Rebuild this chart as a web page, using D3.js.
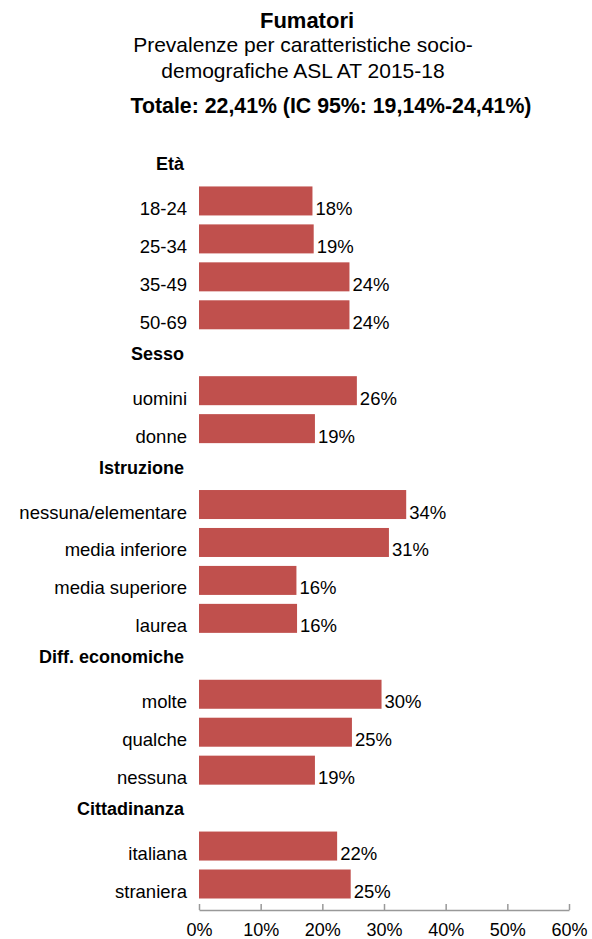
<!DOCTYPE html>
<html>
<head>
<meta charset="utf-8">
<script src="https://cdn.jsdelivr.net/npm/d3@7"></script>
<style>
  body { margin: 0; background: #fff; }
  text { font-family: "Liberation Sans", Arial, sans-serif; fill: #000; }
</style>
</head>
<body>
<svg id="chart"></svg>
<script>
// Groups, categories and values (%)
const groups = ["Età", "Sesso", "Istruzione", "Diff. economiche", "Cittadinanza"];
const categories = [
  ["18-24", "25-34", "35-49", "50-69"],
  ["uomini", "donne"],
  ["nessuna/elementare", "media inferiore", "media superiore", "laurea"],
  ["molte", "qualche", "nessuna"],
  ["italiana", "straniera"]
];
const values = [
  [18.4, 18.6, 24.4, 24.4],
  [25.6, 18.8],
  [33.6, 30.8, 15.8, 15.9],
  [29.6, 24.8, 18.8],
  [22.4, 24.6]
];
const valueLabels = [
  ["18%", "19%", "24%", "24%"],
  ["26%", "19%"],
  ["34%", "31%", "16%", "16%"],
  ["30%", "25%", "19%"],
  ["22%", "25%"]
];
const ticks = [0, 10, 20, 30, 40, 50, 60];

const width = 592, height = 939;
const svg = d3.select("#chart")
  .attr("width", width)
  .attr("height", height);

// Flatten into rows: a header row per group, then one row per category
const rows = [];
groups.forEach((g, i) => {
  rows.push({type: "header", label: g});
  categories[i].forEach((c, j) => {
    rows.push({type: "bar", label: c, value: values[i][j], text: valueLabels[i][j]});
  });
});
rows.forEach((r, i) => r.i = i);

const x = d3.scaleLinear().domain([0, 60]).range([199, 569]);
const y = d3.scalePoint().domain(d3.range(rows.length)).range([163, 884]);
const barH = 29;

// Titles
svg.append("text").attr("x", 307).attr("y", 28).attr("text-anchor", "middle")
  .style("font-size", "22px").style("font-weight", "bold").text("Fumatori");
svg.append("text").attr("x", 303).attr("y", 52).attr("text-anchor", "middle")
  .style("font-size", "21px").text("Prevalenze per caratteristiche socio-");
svg.append("text").attr("x", 303).attr("y", 78).attr("text-anchor", "middle")
  .style("font-size", "21px").text("demografiche ASL AT 2015-18");
svg.append("text").attr("x", 331).attr("y", 113).attr("text-anchor", "middle")
  .style("font-size", "21.3px").style("font-weight", "bold")
  .text("Totale: 22,41% (IC 95%: 19,14%-24,41%)");

// Group headers
svg.selectAll(".header")
  .data(rows.filter(r => r.type === "header"))
  .enter().append("text")
  .attr("class", "header")
  .attr("x", 184)
  .attr("y", d => y(d.i) + 7)
  .attr("text-anchor", "end")
  .style("font-size", "18px").style("font-weight", "bold")
  .text(d => d.label);

const barRows = rows.filter(r => r.type === "bar");

// Bars
svg.selectAll("rect")
  .data(barRows)
  .enter().append("rect")
  .attr("x", x(0))
  .attr("y", d => y(d.i) - barH / 2)
  .attr("width", d => x(d.value) - x(0))
  .attr("height", barH)
  .attr("fill", "#C0504D");

// Category labels
svg.selectAll(".cat")
  .data(barRows)
  .enter().append("text")
  .attr("class", "cat")
  .attr("x", 187)
  .attr("y", d => y(d.i) + 14)
  .attr("text-anchor", "end")
  .style("font-size", "18.5px")
  .text(d => d.label);

// Value labels
svg.selectAll(".val")
  .data(barRows)
  .enter().append("text")
  .attr("class", "val")
  .attr("x", d => x(d.value) + 3)
  .attr("y", d => y(d.i) + 14)
  .style("font-size", "18.5px")
  .text(d => d.text);

// Axis
const axis = svg.append("g")
  .attr("transform", "translate(0,910)")
  .call(d3.axisBottom(x).tickValues(ticks).tickFormat(d => d + "%")
    .tickSizeInner(-6).tickSizeOuter(0));
axis.select(".domain").attr("stroke", "#999").attr("stroke-width", 1.5);
axis.selectAll(".tick line").attr("stroke", "#999").attr("stroke-width", 1.5);
axis.selectAll(".tick text")
  .attr("y", 26).attr("dy", 0)
  .style("font-size", "18px").style("font-family", "'Liberation Sans', Arial, sans-serif")
  .attr("fill", "#000");
</script>
</body>
</html>
